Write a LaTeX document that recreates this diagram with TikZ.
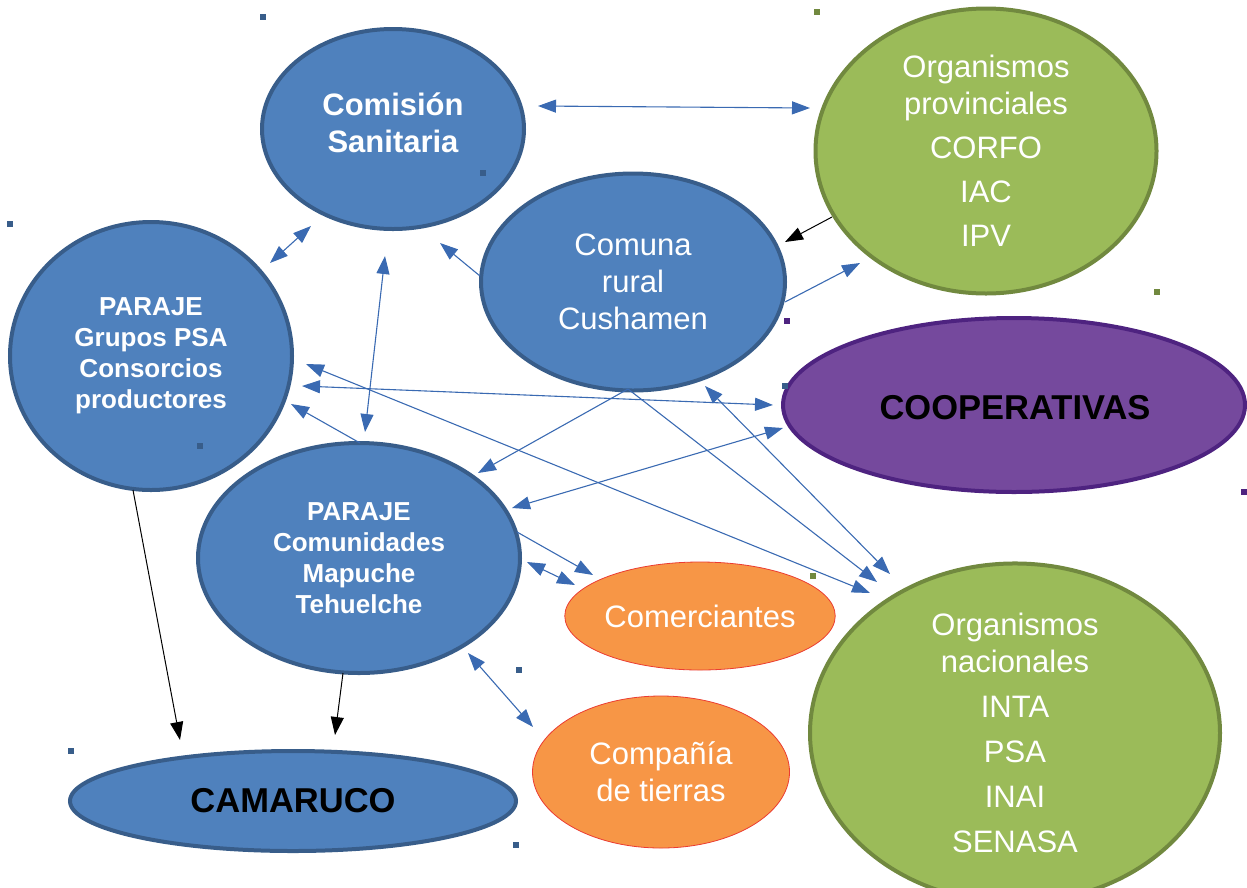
\documentclass[tikz,border=0pt]{standalone}
\usepackage{fontspec}
\setmainfont{Liberation Sans}
\usetikzlibrary{shapes.geometric,arrows.meta}
\definecolor{bfill}{RGB}{79,129,189}
\definecolor{bline}{RGB}{56,93,138}
\definecolor{gfill}{RGB}{155,187,89}
\definecolor{gline}{RGB}{113,137,63}
\definecolor{pfill}{RGB}{117,73,157}
\definecolor{pline}{RGB}{78,35,128}
\definecolor{ofill}{RGB}{247,150,70}
\definecolor{oline}{RGB}{235,60,50}
\definecolor{conn}{RGB}{58,106,178}
\tikzset{
  blueell/.style={ellipse,draw=bline,fill=bfill,line width=4pt,inner sep=0pt},
  greenell/.style={ellipse,draw=gline,fill=gfill,line width=4pt,inner sep=0pt},
  purpell/.style={ellipse,draw=pline,fill=pfill,line width=4pt,inner sep=0pt},
  orell/.style={ellipse,draw=oline,fill=ofill,line width=0.8pt,inner sep=0pt},
  reg/.style={text=white,align=center,font=\fontsize{31}{37}\selectfont},
  boldbig/.style={text=white,align=center,font=\fontsize{31}{37}\selectfont\bfseries},
  boldsmall/.style={text=white,align=center,font=\fontsize{26}{31}\selectfont\bfseries},
  blackbold/.style={text=black,align=center,font=\fontsize{34.5}{40}\selectfont\bfseries},
  conline/.style={draw=conn,line width=1.1pt},
  both/.style={conline,{Triangle[length=18pt,width=13pt]}-{Triangle[length=18pt,width=13pt]}},
  one/.style={conline,-{Triangle[length=18pt,width=13pt]}},
  blk/.style={draw=black,line width=1pt,-{Triangle[length=18pt,width=13pt]}},
  dotsq/.style={inner sep=0pt,minimum size=6pt,draw=none}
}
\begin{document}
\begin{tikzpicture}[x=1pt,y=-1pt]
\useasboundingbox (0,0) rectangle (1247,887);
% ellipses
\node[blueell,minimum width=262pt,minimum height=200pt] (comision) at (393,129) {};
\node[boldbig] (comisionT) at (393,123) {Comisión\\Sanitaria};
\node[greenell,minimum width=341pt,minimum height=285pt,reg] (provinc) at (986,151) {Organismos\\provinciales\\[7pt]CORFO\\[7pt]IAC\\[7pt]IPV};
\node[blueell,minimum width=304pt,minimum height=217pt,reg] (comuna) at (633,282) {Comuna\\rural\\Cushamen};
\node[blueell,minimum width=282pt,minimum height=268pt,boldsmall] (grupos) at (151,356) {PARAJE\\Grupos PSA\\Consorcios\\productores};
\node[purpell,minimum width=462pt,minimum height=174pt] (coop) at (1014,405) {};
\node[blackbold] (coopT) at (1015,408) {COOPERATIVAS};
\node[blueell,minimum width=322pt,minimum height=230pt,boldsmall] (comunid) at (359,558) {PARAJE\\Comunidades\\Mapuche\\Tehuelche};
\node[orell,minimum width=269pt,minimum height=108pt,reg] (comerc) at (700,616) {Comerciantes};
\node[orell,minimum width=257pt,minimum height=152pt,reg] (compania) at (661,772) {Compañía\\de tierras};
\node[greenell,minimum width=410pt,minimum height=310pt,reg] (nacional) at (1015,733) {Organismos\\nacionales\\[8pt]INTA\\[8pt]PSA\\[8pt]INAI\\[8pt]SENASA};
\node[blueell,minimum width=446pt,minimum height=100pt,blackbold] (camaruco) at (293,801) {CAMARUCO};
% small squares
\node[dotsq,fill=bline] (s1) at (263,17) {};
\node[dotsq,fill=gline] (s2) at (817,12) {};
\node[dotsq,fill=bline] (s3) at (10,224) {};
\node[dotsq,fill=bline] (s4) at (483,173) {};
\node[dotsq,fill=gline] (s5) at (1157,292) {};
\node[dotsq,fill=pline] (s6) at (787,321) {};
\node[dotsq,fill=bline] (s7) at (785,386) {};
\node[dotsq,fill=bline] (s8) at (200,446) {};
\node[dotsq,fill=pline] (s9) at (1244,492) {};
\node[dotsq,fill=gline] (s10) at (813,576) {};
\node[dotsq,fill=bline] (s11) at (519,670) {};
\node[dotsq,fill=bline] (s12) at (71,751) {};
\node[dotsq,fill=bline] (s13) at (516,845) {};
% connector end points
\coordinate (a1) at (538,106); \coordinate (b1) at (810,108);
\coordinate (a2) at (270,263); \coordinate (b2) at (311,226);
\coordinate (a3) at (385,256); \coordinate (b3) at (365,432);
\coordinate (a4) at (480,276); \coordinate (b4) at (440,243);
\coordinate (a5) at (832,217); \coordinate (b5) at (785,242);
\coordinate (a6) at (785,302); \coordinate (b6) at (860,263);
\coordinate (a7) at (306,364); \coordinate (b7) at (870,593);
\coordinate (a8) at (302,386); \coordinate (b8) at (773,405);
\coordinate (a9) at (360,443); \coordinate (b9) at (291,404);
\coordinate (a10) at (628,389); \coordinate (b10) at (478,473);
\coordinate (b11) at (877,582);
\coordinate (a12) at (705,386); \coordinate (b12) at (890,574);
\coordinate (a13) at (512,508); \coordinate (b13) at (783,428);
\coordinate (a14) at (517,532); \coordinate (b14) at (593,575);
\coordinate (a15) at (527,562); \coordinate (b15) at (575,585);
\coordinate (a16) at (468,653); \coordinate (b16) at (533,727);
\coordinate (a17) at (133,490); \coordinate (b17) at (180,740);
\coordinate (a18) at (343,673); \coordinate (b18) at (335,735);
% connectors
\draw[both] (a1) -- (b1);
\draw[both] (a2) -- (b2);
\draw[both] (a3) -- (b3);
\draw[one] (a4) -- (b4);
\draw[blk] (a5) -- (b5);
\draw[one] (a6) -- (b6);
\draw[both] (a7) -- (b7);
\draw[both] (a8) -- (b8);
\draw[one] (a9) -- (b9);
\draw[one] (a10) -- (b10);
\draw[one] (a10) -- (b11);
\draw[both] (a12) -- (b12);
\draw[both] (a13) -- (b13);
\draw[one] (a14) -- (b14);
\draw[both] (a15) -- (b15);
\draw[both] (a16) -- (b16);
\draw[blk] (a17) -- (b17);
\draw[blk] (a18) -- (b18);
\end{tikzpicture}
\end{document}
